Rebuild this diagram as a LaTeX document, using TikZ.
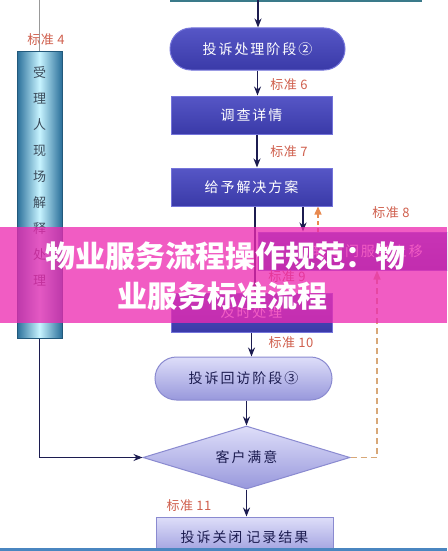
\documentclass[tikz,border=0pt]{standalone}
\usepackage{fontspec}
\usetikzlibrary{shapes.geometric,arrows.meta}
\newfontfamily\cjk[LetterSpace=14]{Noto Sans CJK SC}
\newfontfamily\cjklab[LetterSpace=4]{Noto Sans CJK SC}
\newfontfamily\cjktitle{Noto Sans CJK SC}
\definecolor{navy}{HTML}{1C1C50}
\definecolor{dkA}{HTML}{5656C6}
\definecolor{dkB}{HTML}{3A3AA8}
\definecolor{dkE}{HTML}{7474DA}
\definecolor{ltA}{HTML}{DEDEF9}
\definecolor{ltB}{HTML}{9898DC}
\definecolor{ltE}{HTML}{8A8AD0}
\definecolor{labred}{HTML}{D0604E}
\definecolor{tanc}{HTML}{D8A878}
\definecolor{orng}{HTML}{E88A50}
\definecolor{bannerc}{HTML}{ED29B1}
\definecolor{cyA}{HTML}{2A6F9A}
\definecolor{cyB}{HTML}{C8F4FF}
\definecolor{bandc}{HTML}{4A86C0}
\definecolor{slate}{HTML}{3A4A5A}
\definecolor{topc}{HTML}{3A7A8A}
\tikzset{
  darkbox/.style={draw=dkE, line width=1pt, top color=dkA, bottom color=dkB, text=white,
    inner sep=0pt, font=\cjk\fontsize{14}{16}\selectfont},
  lightbox/.style={draw=ltE, line width=1pt, top color=ltA, bottom color=ltB, text=navy,
    inner sep=0pt, font=\cjk\fontsize{14}{16}\selectfont},
  lab/.style={text=labred, inner sep=0pt, font=\cjklab\fontsize{13}{15}\selectfont},
  arr/.style={draw=navy, line width=1.6pt, -{Stealth[length=9pt,width=7pt]}},
  thinarr/.style={draw=navy, line width=1pt, -{Stealth[length=9pt,width=7pt]}},
  odash/.style={draw=orng, line width=1.3pt, dash pattern=on 4pt off 3pt, -{Triangle[length=8pt,width=7pt]}},
  tdash/.style={draw=tanc, line width=1.3pt, dash pattern=on 6pt off 4pt, -{Triangle[length=9pt,width=7pt]}},
}
\begin{document}
\begin{tikzpicture}[x=1pt,y=-1pt]
\useasboundingbox (0,0) rectangle (447,551);
\clip (0,0) rectangle (447,551);
\fill[white] (0,0) rectangle (447,551);

% top remnants
\coordinate (topL) at (170,0.8);
\coordinate (topR) at (422,0.8);
\draw[topc, line width=1.6pt] (topL) -- (topR);
\coordinate (t0) at (258,0);
\coordinate (g0) at (39.5,0);

% left box
\node[draw=cyA!80!black, line width=1pt, left color=cyA, right color=cyA, middle color=cyB,
  shading=axis, minimum width=45pt, minimum height=286pt, inner sep=0pt] (L) at (39.5,195) {};
\node[text=slate, align=center, inner sep=0pt, font=\cjk\fontsize{13}{26}\selectfont] (Ltext) at (39.5,176)
  {受\\理\\人\\现\\场\\解\\释\\处\\理};
\draw[gray!80, line width=1pt] (g0) -- (L.north);
\node[lab] (l4) at (46,40) {标准 4};

% main column
\node[darkbox, minimum width=175pt, minimum height=42pt, rounded corners=21pt] (s2) at (257.5,49) {投诉处理阶段②};
\node[darkbox, minimum width=161pt, minimum height=38pt] (b1) at (251.5,115) {调查详情};
\node[darkbox, minimum width=161pt, minimum height=38pt] (b2) at (251.5,187) {给予解决方案};
\node[darkbox, minimum width=220pt, minimum height=38pt] (b3) at (368,251) {转专门服务上移};
\node[darkbox, minimum width=161pt, minimum height=39pt] (b4) at (251.5,312.5) {及时处理};
\node[lightbox, minimum width=177pt, minimum height=43pt, rounded corners=21.5pt] (s3) at (243.5,378.5) {投诉回访阶段③};
\node[lightbox, shape=diamond, aspect=3.3, minimum width=207pt, minimum height=63pt] (d) at (246.5,457.5) {客户满意};
\node[lightbox, minimum width=177pt, minimum height=40pt] (b5) at (244.5,537) {投诉关闭\hspace{4pt}记录结果};

% labels
\node[lab] (l6) at (289,85) {标准 6};
\node[lab] (l7) at (289,152) {标准 7};
\node[lab] (l8) at (391,213) {标准 8};
\node[lab] (l9) at (287,277) {标准 9};
\node[lab] (l10) at (291,343) {标准 10};
\node[lab] (l11) at (189,506) {标准 11};

% connectors
\draw[arr] (t0) -- (t0 |- s2.north);
\draw[arr] (s2.south) -- (s2.south |- b1.north);
\draw[arr] ([xshift=5.5pt]b1.south) -- ([xshift=5.5pt]b2.north);
\draw[arr] ([xshift=3.5pt]b2.south) -- ([xshift=3.5pt]b4.north);
\coordinate (x303) at (303,0);
\coordinate (x318) at (318,0);
\coordinate (x377) at (377,0);
\draw[arr] (b2.south -| x303) -- (b3.north -| x303);
\draw[odash] (b3.north -| x318) -- (b2.south -| x318);
\draw[tdash] (d.east) -- (d.east -| x377) -- (b3.south -| x377);
\draw[arr] (b4.south) -- (b4.south |- s3.north);
\draw[arr] (s3.south -| d.north) -- (d.north);
\draw[arr] (d.south) -- (d.south |- b5.north);
\draw[thinarr] (L.south) |- (d.west);

% bottom band
\fill[bandc] (0,548) rectangle (447,551);

% banner overlay
\node[fill=bannerc, fill opacity=0.76, draw=none, minimum width=447pt, minimum height=96pt, inner sep=0pt] (ban) at (223.5,275) {};
\node[text=white, inner sep=0pt, font=\cjktitle\bfseries\fontsize{30}{36}\selectfont] (title1) at (225,256) {物业服务流程操作规范：物};
\node[text=white, inner sep=0pt, font=\cjktitle\bfseries\fontsize{30}{36}\selectfont] (title2) at (222,296) {业服务标准流程};
\end{tikzpicture}
\end{document}
